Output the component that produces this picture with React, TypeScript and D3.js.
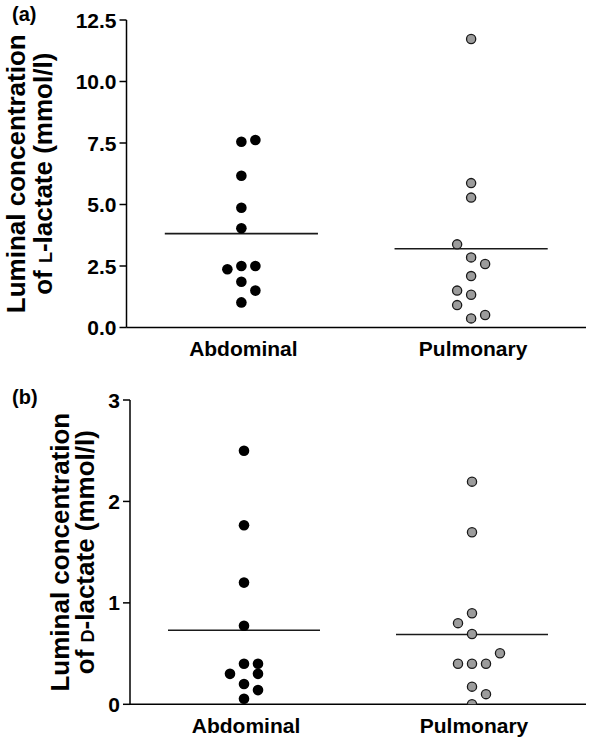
import React from "react";
import * as d3 from "d3";

// ---- Data ----
const categories = ["Abdominal", "Pulmonary"];

// Panel (a): L-lactate (mmol/l)
const abdominalL = [7.55, 7.62, 6.17, 4.87, 4.03, 2.37, 2.5, 2.5, 1.86, 1.5, 1.02];
const abdominalLSlots = [0, 1, 0, 0, 0, -1, 0, 1, 0, 1, 0];
const pulmonaryL = [11.73, 5.87, 5.28, 3.38, 2.85, 2.58, 2.09, 1.5, 1.33, 0.91, 0.37, 0.51];
const pulmonaryLSlots = [0, 0, 0, -1, 0, 1, 0, -1, 0, -1, 0, 1];
const ticksL = [0, 2.5, 5, 7.5, 10, 12.5];

// Panel (b): D-lactate (mmol/l)
const abdominalD = [2.5, 1.765, 1.2, 0.775, 0.4, 0.4, 0.3, 0.3, 0.2, 0.14, 0.055];
const abdominalDSlots = [0, 0, 0, 0, 0, 1, -1, 1, 0, 1, 0];
const pulmonaryD = [2.195, 1.696, 0.897, 0.8, 0.693, 0.503, 0.4, 0.4, 0.4, 0.174, 0.1, 0.0];
const pulmonaryDSlots = [0, 0, 0, -1, 0, 2, -1, 0, 1, 0, 1, 0];
const ticksD = [0, 1, 2, 3];

const FONT = "'Liberation Sans', Arial, Helvetica, sans-serif";

type PanelProps = {
  id: string;
  letter: string;
  small: string;
  groups: { values: number[]; slots: number[] }[];
  ticks: number[];
  tickFmt: (v: number) => string;
  yMax: number;
  left: number;
  right: number;
  top: number;
  bottom: number;
  title1X: number;
  title2X: number;
  letterY: number;
  xLabelY: number;
};

function Panel(p: PanelProps) {
  const x = d3.scaleBand<string>().domain(categories).range([p.left, p.right]).padding(0);
  const y = d3.scaleLinear().domain([0, p.yMax]).range([p.bottom, p.top]);
  const bw = x.bandwidth();
  const step = 14;
  const colors = ["#000000", "#9c9c9c"];
  const cy = (p.top + p.bottom) / 2;
  return (
    <g>
      <defs>
        <clipPath id={`clip-${p.id}`}>
          <rect x={p.left} y={p.top - 20} width={p.right - p.left} height={p.bottom - p.top + 20} />
        </clipPath>
      </defs>
      <text x={12} y={p.letterY} fontFamily={FONT} fontWeight="bold" fontSize={20}>
        ({p.letter})
      </text>
      {/* y-axis title */}
      <g fontFamily={FONT} fontWeight="bold" fontSize={26} textAnchor="middle">
        <text transform={`translate(${p.title1X},${cy}) rotate(-90)`}>Luminal concentration</text>
        <text transform={`translate(${p.title2X},${cy}) rotate(-90)`}>
          of <tspan fontSize={18}>{p.small}</tspan>-lactate (mmol/l)
        </text>
      </g>
      {/* y axis */}
      <line x1={p.left} x2={p.left} y1={p.top} y2={p.bottom} stroke="#000" strokeWidth={1.5} />
      {p.ticks.map((t) => (
        <g key={t}>
          <line x1={p.left - 7} x2={p.left} y1={y(t)} y2={y(t)} stroke="#000" strokeWidth={1.5} />
          <text
            x={p.left - 10}
            y={y(t)}
            dy="0.36em"
            textAnchor="end"
            fontFamily={FONT}
            fontWeight="bold"
            fontSize={21}
          >
            {p.tickFmt(t)}
          </text>
        </g>
      ))}
      {/* x axis */}
      <line x1={p.left} x2={p.right} y1={p.bottom} y2={p.bottom} stroke="#000" strokeWidth={1.5} />
      {categories.map((c) => (
        <text
          key={c}
          x={(x(c) as number) + bw / 2 + 2}
          y={p.xLabelY}
          textAnchor="middle"
          fontFamily={FONT}
          fontWeight="bold"
          fontSize={21}
        >
          {c}
        </text>
      ))}
      {/* points and means */}
      <g clipPath={`url(#clip-${p.id})`}>
        {p.groups.map((g, gi) => {
          const cx = (x(categories[gi]) as number) + bw / 2;
          const m = d3.mean(g.values) as number;
          return (
            <g key={gi}>
              <line
                x1={cx - bw / 3}
                x2={cx + bw / 3}
                y1={y(m)}
                y2={y(m)}
                stroke="#1a1a1a"
                strokeWidth={1.6}
              />
              {g.values.map((v, i) =>
                gi === 0 ? (
                  <circle key={i} cx={cx + g.slots[i] * step} cy={y(v)} r={5.3} fill={colors[0]} />
                ) : (
                  <circle
                    key={i}
                    cx={cx + g.slots[i] * step}
                    cy={y(v)}
                    r={4.6}
                    fill={colors[1]}
                    stroke="#1a1a1a"
                    strokeWidth={1.3}
                  />
                )
              )}
            </g>
          );
        })}
      </g>
    </g>
  );
}

export default function App() {
  return (
    <svg
      width={600}
      height={748}
      style={{ position: "absolute", left: 0, top: 0, background: "#fff" }}
    >
      <rect width={600} height={748} fill="#fff" />
      <Panel
        id="a"
        letter="a"
        small="L"
        groups={[
          { values: abdominalL, slots: abdominalLSlots },
          { values: pulmonaryL, slots: pulmonaryLSlots },
        ]}
        ticks={ticksL}
        tickFmt={(v) => v.toFixed(1)}
        yMax={12.5}
        left={126.5}
        right={586}
        top={20}
        bottom={327.5}
        title1X={25}
        title2X={52}
        letterY={21}
        xLabelY={356}
      />
      <Panel
        id="b"
        letter="b"
        small="D"
        groups={[
          { values: abdominalD, slots: abdominalDSlots },
          { values: pulmonaryD, slots: pulmonaryDSlots },
        ]}
        ticks={ticksD}
        tickFmt={(v) => String(v)}
        yMax={3}
        left={130}
        right={586}
        top={400}
        bottom={704.3}
        title1X={69}
        title2X={94}
        letterY={404}
        xLabelY={733}
      />
    </svg>
  );
}
